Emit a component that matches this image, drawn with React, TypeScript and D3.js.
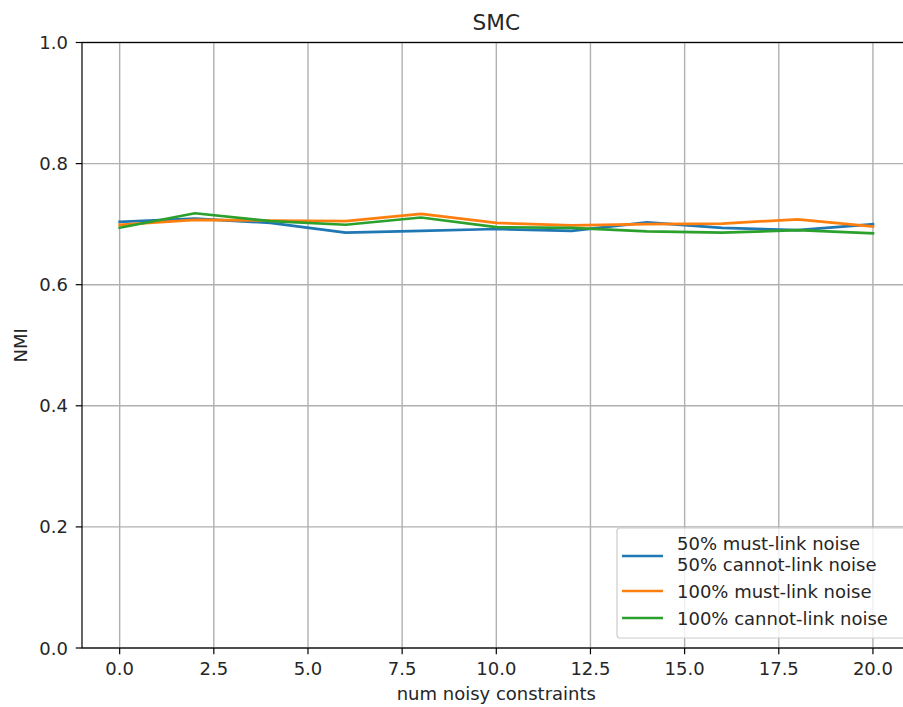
import React from "react";
import * as d3 from "d3";

const xs = [0, 2, 4, 6, 8, 10, 12, 14, 16, 18, 20];
const blue = [0.704, 0.709, 0.702, 0.686, 0.689, 0.692, 0.689, 0.703, 0.694, 0.690, 0.700];
const orange = [0.699, 0.707, 0.706, 0.705, 0.717, 0.702, 0.698, 0.700, 0.701, 0.708, 0.696];
const green = [0.694, 0.718, 0.705, 0.699, 0.711, 0.695, 0.694, 0.688, 0.686, 0.690, 0.685];
const xTicks = [0, 2.5, 5, 7.5, 10, 12.5, 15, 17.5, 20];
const yTicks = [0, 0.2, 0.4, 0.6, 0.8, 1.0];
const series = [
  { name: ["50% must-link noise", "50% cannot-link noise"], values: blue, color: "#1f77b4" },
  { name: ["100% must-link noise"], values: orange, color: "#ff7f0e" },
  { name: ["100% cannot-link noise"], values: green, color: "#2ca02c" },
];

export default function App() {
  const W = 903, H = 707;
  const left = 82, right = 910.6, top = 42.5, bottom = 648;
  const x = d3.scaleLinear().domain([-1, 21]).range([left, right]);
  const y = d3.scaleLinear().domain([0, 1]).range([bottom, top]);
  const line = d3.line<number>().x((_, i) => x(xs[i])).y((d) => y(d));
  const font = "DejaVu Sans, sans-serif";
  const txt = "#262626";
  const fs = 18;
  return (
    <svg width={W} height={H} style={{ position: "absolute", left: 0, top: 0, background: "#fff" }} fontFamily={font}>
      <defs>
        <clipPath id="clip"><rect x={left} y={top} width={right - left} height={bottom - top} /></clipPath>
      </defs>
      {xTicks.map((t) => (
        <line key={"gx" + t} x1={x(t)} x2={x(t)} y1={top} y2={bottom} stroke="#b0b0b0" strokeWidth={1.4} />
      ))}
      {yTicks.map((t) => (
        <line key={"gy" + t} x1={left} x2={right} y1={y(t)} y2={y(t)} stroke="#b0b0b0" strokeWidth={1.4} />
      ))}
      <g clipPath="url(#clip)">
        {series.map((s) => (
          <path key={s.color} d={line(s.values) || ""} fill="none" stroke={s.color} strokeWidth={2.7} strokeLinejoin="round" strokeLinecap="square" />
        ))}
      </g>
      <rect x={left} y={top} width={right - left} height={bottom - top} fill="none" stroke="#000" strokeWidth={1.2} />
      {xTicks.map((t) => (
        <g key={"tx" + t}>
          <line x1={x(t)} x2={x(t)} y1={bottom} y2={bottom + 6.3} stroke="#000" strokeWidth={1.2} />
          <text x={x(t)} y={675} textAnchor="middle" fontSize={fs} fill={txt}>{t.toFixed(1)}</text>
        </g>
      ))}
      {yTicks.map((t) => (
        <g key={"ty" + t}>
          <line x1={left - 6.3} x2={left} y1={y(t)} y2={y(t)} stroke="#000" strokeWidth={1.2} />
          <text x={68} y={y(t) + 6.5} textAnchor="end" fontSize={fs} fill={txt}>{t.toFixed(1)}</text>
        </g>
      ))}
      <text x={(left + right) / 2} y={30} textAnchor="middle" fontSize={21.6} fill={txt}>SMC</text>
      <text x={(left + right) / 2} y={700} textAnchor="middle" fontSize={fs} fill={txt}>num noisy constraints</text>
      <text transform={`translate(27,${(top + bottom) / 2}) rotate(-90)`} textAnchor="middle" fontSize={fs} fill={txt}>NMI</text>
      <g>
        <rect x={617} y={528} width={290} height={110} rx={3} fill="#fff" fillOpacity={0.8} stroke="#cccccc" strokeWidth={1.2} />
        {series.map((s, i) => {
          const ly = [556, 591, 618][i];
          const by = [550, 598, 625][i];
          return (
            <g key={"lg" + i}>
              <line x1={622} x2={663} y1={ly} y2={ly} stroke={s.color} strokeWidth={2.7} />
              {s.name.map((n, j) => (
                <text key={j} x={677} y={by + j * 20.7} fontSize={fs} fill={txt}>{n}</text>
              ))}
            </g>
          );
        })}
      </g>
    </svg>
  );
}
